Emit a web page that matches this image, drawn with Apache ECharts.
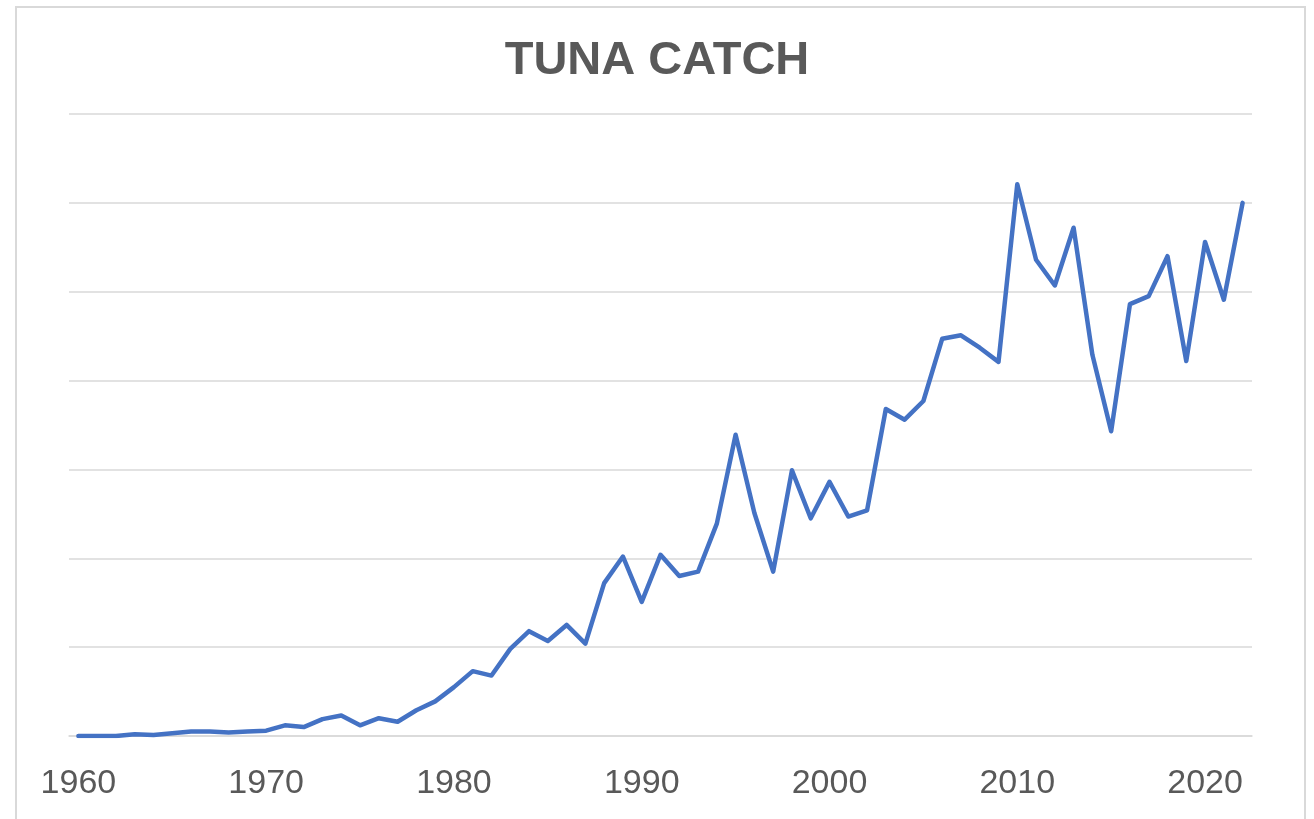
<!DOCTYPE html>
<html>
<head>
<meta charset="utf-8">
<script src="https://cdn.jsdelivr.net/npm/echarts@6/dist/echarts.min.js"></script>
<style>
  html, body { margin: 0; padding: 0; background: #fff; }
  #chart { width: 1314px; height: 819px; }
</style>
</head>
<body>
<div id="chart"></div>
<script>
// years 1960..2022
var years = [];
for (var y = 1960; y <= 2022; y++) years.push(String(y));

// catch (grid units x100, no scale shown)
var tunaCatch = [
  0, 0, 0, 2, 1, 3, 5, 5, 4, 5,
  6, 12, 10, 19, 23, 12, 20, 16, 29, 39,
  55, 73, 68, 98, 118, 107, 125, 104, 172, 202,
  151, 204, 180, 185, 239, 339, 251, 185, 299, 245,
  286, 247, 254, 368, 356, 377, 447, 451, 437, 421,
  621, 536, 507, 572, 429, 343, 486, 495, 540, 422,
  556, 491, 600
];

var chart = echarts.init(document.getElementById('chart'));
chart.setOption({
  backgroundColor: '#fff',
  animation: false,
  title: {
    text: 'TUNA CATCH',
    left: 'center',
    top: 33,
    textStyle: {
      fontFamily: 'Liberation Sans',
      fontWeight: 'bold',
      fontSize: 47,
      color: '#595959'
    }
  },
  graphic: [{
    type: 'rect',
    shape: { x: 16, y: 7, width: 1289, height: 840 },
    style: { fill: 'none', stroke: '#d9d9d9', lineWidth: 2 },
    silent: true
  }],
  grid: { left: 69, right: 62, top: 114, bottom: 83 },
  xAxis: {
    type: 'category',
    data: years,
    boundaryGap: true,
    axisLine: { lineStyle: { color: '#d9d9d9', width: 1.5 } },
    axisTick: { inside: true, length: 12, interval: 9, lineStyle: { color: '#d0d0d0', width: 1.5 } },
    axisLabel: {
      interval: 9,
      margin: 31,
      fontFamily: 'Liberation Sans',
      fontSize: 34,
      color: '#595959'
    }
  },
  yAxis: {
    type: 'value',
    min: 0,
    max: 700,
    interval: 100,
    axisLine: { show: false },
    axisTick: { show: false },
    axisLabel: { show: false },
    splitLine: { lineStyle: { color: '#d9d9d9', width: 1.5 } }
  },
  series: [{
    type: 'line',
    data: tunaCatch,
    showSymbol: false,
    lineStyle: { color: '#4472C4', width: 4.5, join: 'round', cap: 'round' }
  }]
});
</script>
</body>
</html>
